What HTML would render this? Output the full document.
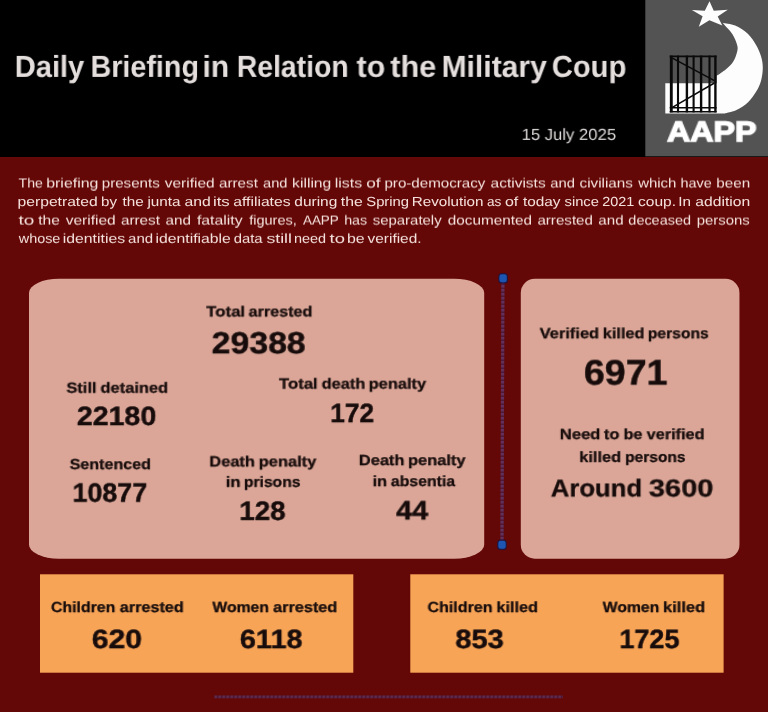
<!DOCTYPE html>
<html lang="en">
<head>
<meta charset="utf-8">
<title>Daily Briefing in Relation to the Military Coup</title>
<style>
html,body{margin:0;padding:0;}
body{width:768px;height:712px;position:relative;overflow:hidden;background:#640807;font-family:"Liberation Sans",sans-serif;}
header{position:absolute;left:0;top:0;width:768px;height:157px;background:#000;}
.logo{position:absolute;left:645px;top:0;width:123px;height:157px;}
.logo svg{position:absolute;left:0;top:0;}
h1{margin:0;padding:0;font-size:30px;}
.t{position:absolute;left:0;top:0;text-rendering:geometricPrecision;margin:0;padding:0;white-space:nowrap;line-height:1;transform-origin:0 0;font-weight:700;}
.pl{position:absolute;left:0;top:0;text-rendering:geometricPrecision;margin:0;padding:0;white-space:nowrap;line-height:1;font-size:13.2px;letter-spacing:0.0px;color:#f4e0db;font-weight:400;transform-origin:0 0;}
.card{position:absolute;left:0;top:0;transform-origin:0 0;background:#dba698;}
.box{position:absolute;left:0;top:0;transform-origin:0 0;background:#f8a457;}
.deco{position:absolute;left:0;top:0;}
.pl span{position:absolute;left:0;top:0;transform-origin:0 0;white-space:nowrap;}
#w1{font-size:30.44px;font-weight:700;color:#e4dedd;transform:translate(14.77px,51.90px) scaleX(0.9558) perspective(10000px) rotateX(0.1deg);}
#w2{font-size:30.44px;font-weight:700;color:#e4dedd;transform:translate(90.57px,51.90px) scaleX(0.9427) perspective(10000px) rotateX(0.1deg);}
#w3{font-size:30.44px;font-weight:700;color:#e4dedd;transform:translate(202.52px,51.90px) scaleX(0.9838) perspective(10000px) rotateX(0.1deg);}
#w4{font-size:30.44px;font-weight:700;color:#e4dedd;transform:translate(236.83px,51.90px) scaleX(0.9312) perspective(10000px) rotateX(0.1deg);}
#w5{font-size:30.44px;font-weight:700;color:#e4dedd;transform:translate(356.53px,51.90px) scaleX(0.9978) perspective(10000px) rotateX(0.1deg);}
#w6{font-size:30.44px;font-weight:700;color:#e4dedd;transform:translate(390.29px,51.90px) scaleX(1.0054) perspective(10000px) rotateX(0.1deg);}
#w7{font-size:30.44px;font-weight:700;color:#e4dedd;transform:translate(441.64px,51.90px) scaleX(0.9868) perspective(10000px) rotateX(0.1deg);}
#w8{font-size:30.44px;font-weight:700;color:#e4dedd;transform:translate(551.83px,51.90px) scaleX(0.9584) perspective(10000px) rotateX(0.1deg);}
#date{font-size:16.07px;font-weight:400;color:#dedad9;transform:translate(521.66px,126.90px) scaleX(1.0366) perspective(10000px) rotateX(0.1deg);}
#aapp{font-size:28.44px;font-weight:700;color:#ffffff;-webkit-text-stroke:1.3px #ffffff;transform:translate(667.01px,118.25px) scaleX(1.1337) perspective(10000px) rotateX(0.1deg);}
#ta_1{font-size:14.79px;font-weight:700;color:#170c0b;-webkit-text-stroke:0.3px #170c0b;transform:translate(206.15px,305.50px) scaleX(1.1389) perspective(10000px) rotateX(0.1deg);}
#ta_2{font-size:14.79px;font-weight:700;color:#170c0b;-webkit-text-stroke:0.3px #170c0b;transform:translate(248.57px,305.50px) scaleX(1.0944) perspective(10000px) rotateX(0.1deg);}
#ta_n{font-size:30.51px;font-weight:700;color:#170c0b;-webkit-text-stroke:0.45px #170c0b;transform:translate(211.62px,328.27px) scaleX(1.1098) perspective(10000px) rotateX(0.1deg);}
#sd_1{font-size:14.79px;font-weight:700;color:#170c0b;-webkit-text-stroke:0.3px #170c0b;transform:translate(66.44px,381.75px) scaleX(1.1081) perspective(10000px) rotateX(0.1deg);}
#sd_2{font-size:14.79px;font-weight:700;color:#170c0b;-webkit-text-stroke:0.3px #170c0b;transform:translate(100.49px,381.75px) scaleX(1.1133) perspective(10000px) rotateX(0.1deg);}
#sd_n{font-size:26.58px;font-weight:700;color:#170c0b;-webkit-text-stroke:0.45px #170c0b;transform:translate(76.88px,403.09px) scaleX(1.0739) perspective(10000px) rotateX(0.1deg);}
#tdp_1{font-size:14.79px;font-weight:700;color:#170c0b;-webkit-text-stroke:0.3px #170c0b;transform:translate(278.97px,377.65px) scaleX(1.1309) perspective(10000px) rotateX(0.1deg);}
#tdp_2{font-size:14.79px;font-weight:700;color:#170c0b;-webkit-text-stroke:0.3px #170c0b;transform:translate(321.70px,377.65px) scaleX(1.1044) perspective(10000px) rotateX(0.1deg);}
#tdp_3{font-size:14.79px;font-weight:700;color:#170c0b;-webkit-text-stroke:0.3px #170c0b;transform:translate(368.65px,377.65px) scaleX(1.1122) perspective(10000px) rotateX(0.1deg);}
#tdp_n{font-size:26.60px;font-weight:700;color:#170c0b;-webkit-text-stroke:0.45px #170c0b;transform:translate(330.31px,400.15px) scaleX(0.9881) perspective(10000px) rotateX(0.1deg);}
#se{font-size:14.79px;font-weight:700;color:#170c0b;-webkit-text-stroke:0.3px #170c0b;transform:translate(69.72px,458.20px) scaleX(1.0865) perspective(10000px) rotateX(0.1deg);}
#se_n{font-size:26.60px;font-weight:700;color:#170c0b;-webkit-text-stroke:0.45px #170c0b;transform:translate(72.56px,479.75px) scaleX(1.0096) perspective(10000px) rotateX(0.1deg);}
#dp1_1{font-size:14.79px;font-weight:700;color:#170c0b;-webkit-text-stroke:0.3px #170c0b;transform:translate(209.33px,455.45px) scaleX(1.1100) perspective(10000px) rotateX(0.1deg);}
#dp1_2{font-size:14.79px;font-weight:700;color:#170c0b;-webkit-text-stroke:0.3px #170c0b;transform:translate(258.69px,455.45px) scaleX(1.1154) perspective(10000px) rotateX(0.1deg);}
#dp1b_1{font-size:14.79px;font-weight:700;color:#170c0b;-webkit-text-stroke:0.3px #170c0b;transform:translate(225.73px,475.85px) scaleX(1.1379) perspective(10000px) rotateX(0.1deg);}
#dp1b_2{font-size:14.79px;font-weight:700;color:#170c0b;-webkit-text-stroke:0.3px #170c0b;transform:translate(243.91px,475.85px) scaleX(1.0587) perspective(10000px) rotateX(0.1deg);}
#dp1_n{font-size:26.60px;font-weight:700;color:#170c0b;-webkit-text-stroke:0.45px #170c0b;transform:translate(239.35px,497.95px) scaleX(1.0445) perspective(10000px) rotateX(0.1deg);}
#dp2_1{font-size:14.79px;font-weight:700;color:#170c0b;-webkit-text-stroke:0.3px #170c0b;transform:translate(358.85px,454.15px) scaleX(1.1112) perspective(10000px) rotateX(0.1deg);}
#dp2_2{font-size:14.79px;font-weight:700;color:#170c0b;-webkit-text-stroke:0.3px #170c0b;transform:translate(408.00px,454.15px) scaleX(1.1129) perspective(10000px) rotateX(0.1deg);}
#dp2b_1{font-size:14.79px;font-weight:700;color:#170c0b;-webkit-text-stroke:0.3px #170c0b;transform:translate(372.58px,475.15px) scaleX(1.1091) perspective(10000px) rotateX(0.1deg);}
#dp2b_2{font-size:14.79px;font-weight:700;color:#170c0b;-webkit-text-stroke:0.3px #170c0b;transform:translate(390.86px,475.15px) scaleX(1.0716) perspective(10000px) rotateX(0.1deg);}
#dp2_n{font-size:26.60px;font-weight:700;color:#170c0b;-webkit-text-stroke:0.45px #170c0b;transform:translate(396.10px,497.45px) scaleX(1.0863) perspective(10000px) rotateX(0.1deg);}
#vk_1{font-size:14.79px;font-weight:700;color:#170c0b;-webkit-text-stroke:0.3px #170c0b;transform:translate(539.70px,327.30px) scaleX(1.1128) perspective(10000px) rotateX(0.1deg);}
#vk_2{font-size:14.79px;font-weight:700;color:#170c0b;-webkit-text-stroke:0.3px #170c0b;transform:translate(602.76px,327.30px) scaleX(1.1051) perspective(10000px) rotateX(0.1deg);}
#vk_3{font-size:14.79px;font-weight:700;color:#170c0b;-webkit-text-stroke:0.3px #170c0b;transform:translate(647.81px,327.30px) scaleX(1.0603) perspective(10000px) rotateX(0.1deg);}
#vk_n{font-size:35.63px;font-weight:700;color:#170c0b;-webkit-text-stroke:0.45px #170c0b;transform:translate(583.92px,355.57px) scaleX(1.0534) perspective(10000px) rotateX(0.1deg);}
#nv_1{font-size:14.79px;font-weight:700;color:#170c0b;-webkit-text-stroke:0.3px #170c0b;transform:translate(559.82px,428.20px) scaleX(1.1247) perspective(10000px) rotateX(0.1deg);}
#nv_2{font-size:14.79px;font-weight:700;color:#170c0b;-webkit-text-stroke:0.3px #170c0b;transform:translate(603.90px,428.20px) scaleX(1.1061) perspective(10000px) rotateX(0.1deg);}
#nv_3{font-size:14.79px;font-weight:700;color:#170c0b;-webkit-text-stroke:0.3px #170c0b;transform:translate(623.54px,428.20px) scaleX(1.0977) perspective(10000px) rotateX(0.1deg);}
#nv_4{font-size:14.79px;font-weight:700;color:#170c0b;-webkit-text-stroke:0.3px #170c0b;transform:translate(646.63px,428.20px) scaleX(1.1030) perspective(10000px) rotateX(0.1deg);}
#nvb_1{font-size:14.79px;font-weight:700;color:#170c0b;-webkit-text-stroke:0.3px #170c0b;transform:translate(579.21px,450.95px) scaleX(1.1114) perspective(10000px) rotateX(0.1deg);}
#nvb_2{font-size:14.79px;font-weight:700;color:#170c0b;-webkit-text-stroke:0.3px #170c0b;transform:translate(625.12px,450.95px) scaleX(1.0508) perspective(10000px) rotateX(0.1deg);}
#nv_n_1{font-size:24.46px;font-weight:700;color:#170c0b;-webkit-text-stroke:0.3px #170c0b;transform:translate(550.77px,477.45px) scaleX(1.0507) perspective(10000px) rotateX(0.1deg);}
#nv_n_2{font-size:24.46px;font-weight:700;color:#170c0b;-webkit-text-stroke:0.3px #170c0b;transform:translate(648.83px,477.45px) scaleX(1.1891) perspective(10000px) rotateX(0.1deg);}
#ca_1{font-size:14.79px;font-weight:700;color:#170c0b;-webkit-text-stroke:0.3px #170c0b;transform:translate(50.99px,601.10px) scaleX(1.0718) perspective(10000px) rotateX(0.1deg);}
#ca_2{font-size:14.79px;font-weight:700;color:#170c0b;-webkit-text-stroke:0.3px #170c0b;transform:translate(119.76px,601.10px) scaleX(1.0976) perspective(10000px) rotateX(0.1deg);}
#ca_n{font-size:26.61px;font-weight:700;color:#170c0b;-webkit-text-stroke:0.45px #170c0b;transform:translate(91.80px,626.15px) scaleX(1.1343) perspective(10000px) rotateX(0.1deg);}
#wa_1{font-size:14.79px;font-weight:700;color:#170c0b;-webkit-text-stroke:0.3px #170c0b;transform:translate(212.37px,601.10px) scaleX(1.0661) perspective(10000px) rotateX(0.1deg);}
#wa_2{font-size:14.79px;font-weight:700;color:#170c0b;-webkit-text-stroke:0.3px #170c0b;transform:translate(273.10px,601.10px) scaleX(1.1003) perspective(10000px) rotateX(0.1deg);}
#wa_n{font-size:26.61px;font-weight:700;color:#170c0b;-webkit-text-stroke:0.45px #170c0b;transform:translate(239.87px,626.15px) scaleX(1.0848) perspective(10000px) rotateX(0.1deg);}
#ck_1{font-size:14.79px;font-weight:700;color:#170c0b;-webkit-text-stroke:0.3px #170c0b;transform:translate(427.50px,601.10px) scaleX(1.0838) perspective(10000px) rotateX(0.1deg);}
#ck_2{font-size:14.79px;font-weight:700;color:#170c0b;-webkit-text-stroke:0.3px #170c0b;transform:translate(496.39px,601.10px) scaleX(1.1033) perspective(10000px) rotateX(0.1deg);}
#ck_n{font-size:26.61px;font-weight:700;color:#170c0b;-webkit-text-stroke:0.45px #170c0b;transform:translate(455.34px,626.15px) scaleX(1.0934) perspective(10000px) rotateX(0.1deg);}
#wk_1{font-size:14.79px;font-weight:700;color:#170c0b;-webkit-text-stroke:0.3px #170c0b;transform:translate(602.67px,601.10px) scaleX(1.0675) perspective(10000px) rotateX(0.1deg);}
#wk_2{font-size:14.79px;font-weight:700;color:#170c0b;-webkit-text-stroke:0.3px #170c0b;transform:translate(662.96px,601.10px) scaleX(1.1192) perspective(10000px) rotateX(0.1deg);}
#wk_n{font-size:26.61px;font-weight:700;color:#170c0b;-webkit-text-stroke:0.45px #170c0b;transform:translate(619.48px,626.15px) scaleX(1.0123) perspective(10000px) rotateX(0.1deg);}
#cardL{width:456px;height:280px;border-radius:30px/14px;transform:translate(29.0px,278.8px) scale(0.99825,0.99964);}
#cardR{width:219px;height:280px;border-radius:14px;transform:translate(520.8px,278.8px) scale(0.99840,0.99964);}
#boxL{width:314px;height:99px;border-radius:0;transform:translate(40.0px,574.3px) scale(0.99777,0.99394);}
#boxR{width:314px;height:99px;border-radius:0;transform:translate(410.3px,574.3px) scale(0.99777,0.99394);}
#p1{transform:translate(0,176.50px) perspective(10000px) rotateX(0.1deg);}
#p2{transform:translate(0,195.00px) perspective(10000px) rotateX(0.1deg);}
#p3{transform:translate(0,213.60px) perspective(10000px) rotateX(0.1deg);}
#p4{transform:translate(0,231.90px) perspective(10000px) rotateX(0.1deg);}
</style>
</head>
<body>
<header>
  <h1><span class="t" id="w1">Daily</span> <span class="t" id="w2">Briefing</span> <span class="t" id="w3">in</span> <span class="t" id="w4">Relation</span> <span class="t" id="w5">to</span> <span class="t" id="w6">the</span> <span class="t" id="w7">Military</span> <span class="t" id="w8">Coup</span></h1>
  <div class="t" id="date">15 July 2025</div>
  <div class="logo"><svg width="123" height="157" viewBox="645 0 123 157" aria-label="AAPP logo"><rect x="645.3" y="0" width="123" height="156.3" fill="#535353"/><polygon fill="#fdfdfd" points="709.5,1.3 713.75,10.7 727.75,9.85 717.7,16.4 722.3,25.4 709.4,20.2 698.8,26.8 702.6,16.2 691.9,10.1 704.8,10.7"/><path fill="#fdfdfd" d="M722.5 22.8C724.6 23.3 730.9 23.8 735.1 25.6C739.3 27.4 744.2 30.5 747.8 33.8C751.3 37.1 754.0 41.5 756.2 45.3C758.4 49.1 760.0 52.8 761.1 56.5C762.2 60.2 762.8 63.8 762.8 67.8C762.8 71.7 762.2 76.4 761.1 80.4C760.0 84.4 758.4 87.9 756.2 91.6C754.0 95.3 751.0 99.5 747.8 102.5C744.5 105.5 740.4 108.1 736.5 109.9C732.6 111.7 726.5 112.8 724.5 113.4L665.3 113.4L665.3 83.2L716.7 83.2L716.7 75.8C718.2 74.7 723.3 71.5 726.0 69.2C728.7 66.9 731.2 64.9 733.0 62.1C734.8 59.3 736.3 55.1 737.0 52.3C737.7 49.5 738.0 48.3 737.2 45.3C736.4 42.2 734.8 37.8 732.3 34.0C729.8 30.2 724.1 24.7 722.5 22.8Z"/><g stroke="#0a0a0a" fill="none"><line x1="671.3" y1="55.6" x2="671.3" y2="112.4" stroke-width="2.9"/><line x1="678" y1="55.6" x2="678" y2="112.4" stroke-width="2.1"/><line x1="686.9" y1="55.6" x2="686.9" y2="112.4" stroke-width="2.4"/><line x1="693.6" y1="55.6" x2="693.6" y2="112.4" stroke-width="2.1"/><line x1="701.1" y1="55.6" x2="701.1" y2="112.4" stroke-width="2.4"/><line x1="709.5" y1="55.6" x2="709.5" y2="112.4" stroke-width="2.1"/><line x1="715.4" y1="55.6" x2="715.4" y2="112.4" stroke-width="2.4"/><line x1="669.7" y1="56.4" x2="716.6" y2="56.4" stroke-width="1.6"/><line x1="669.7" y1="107.8" x2="716.6" y2="107.8" stroke-width="1.4"/><line x1="669.7" y1="111.7" x2="716.6" y2="111.7" stroke-width="1.5"/><line x1="672.4" y1="58.1" x2="714.4" y2="80.6" stroke-width="1.5"/><line x1="714.4" y1="83" x2="672.4" y2="107.3" stroke-width="1.5"/></g></svg></div>
  <div class="t" id="aapp">AAPP</div>
</header>
<main>
  <p class="pl" id="p1"><span style="transform:translateX(18.58px) scaleX(1.0680)">The</span> <span style="transform:translateX(46.21px) scaleX(1.2055)">briefing</span> <span style="transform:translateX(101.75px) scaleX(1.1460)">presents</span> <span style="transform:translateX(164.80px) scaleX(1.1719)">verified</span> <span style="transform:translateX(219.08px) scaleX(1.1506)">arrest</span> <span style="transform:translateX(263.09px) scaleX(1.1093)">and</span> <span style="transform:translateX(292.12px) scaleX(1.1877)">killing</span> <span style="transform:translateX(334.81px) scaleX(1.2049)">lists</span> <span style="transform:translateX(366.16px) scaleX(1.3062)">of</span> <span style="transform:translateX(384.45px) scaleX(1.1473)">pro-democracy</span> <span style="transform:translateX(490.57px) scaleX(1.1742)">activists</span> <span style="transform:translateX(550.34px) scaleX(1.1212)">and</span> <span style="transform:translateX(579.57px) scaleX(1.1545)">civilians</span> <span style="transform:translateX(638.13px) scaleX(1.1351)">which</span> <span style="transform:translateX(680.50px) scaleX(1.0930)">have</span> <span style="transform:translateX(716.35px) scaleX(1.1511)">been</span></p>
  <p class="pl" id="p2"><span style="transform:translateX(17.57px) scaleX(1.1865)">perpetrated</span> <span style="transform:translateX(101.06px) scaleX(1.1436)">by</span> <span style="transform:translateX(122.50px) scaleX(1.1563)">the</span> <span style="transform:translateX(147.48px) scaleX(1.1573)">junta</span> <span style="transform:translateX(184.41px) scaleX(1.1931)">and</span> <span style="transform:translateX(212.95px) scaleX(1.2706)">its</span> <span style="transform:translateX(233.31px) scaleX(1.1888)">affiliates</span> <span style="transform:translateX(294.32px) scaleX(1.1719)">during</span> <span style="transform:translateX(340.80px) scaleX(1.1956)">the</span> <span style="transform:translateX(366.24px) scaleX(1.1242)">Spring</span> <span style="transform:translateX(411.71px) scaleX(1.1518)">Revolution</span> <span style="transform:translateX(486.88px) scaleX(1.0293)">as</span> <span style="transform:translateX(504.90px) scaleX(1.2123)">of</span> <span style="transform:translateX(522.90px) scaleX(1.1644)">today</span> <span style="transform:translateX(564.57px) scaleX(1.1139)">since</span> <span style="transform:translateX(602.22px) scaleX(1.0918)">2021</span> <span style="transform:translateX(638.06px) scaleX(1.1781)">coup.</span> <span style="transform:translateX(678.36px) scaleX(1.1531)">In</span> <span style="transform:translateX(695.31px) scaleX(1.1866)">addition</span></p>
  <p class="pl" id="p3"><span style="transform:translateX(18.55px) scaleX(1.4369)">to</span> <span style="transform:translateX(38.30px) scaleX(1.1788)">the</span> <span style="transform:translateX(65.70px) scaleX(1.1767)">verified</span> <span style="transform:translateX(120.92px) scaleX(1.1596)">arrest</span> <span style="transform:translateX(165.62px) scaleX(1.1548)">and</span> <span style="transform:translateX(196.90px) scaleX(1.2005)">fatality</span> <span style="transform:translateX(249.20px) scaleX(1.1016)">figures,</span> <span style="transform:translateX(302.90px) scaleX(1.0213)">AAPP</span> <span style="transform:translateX(344.16px) scaleX(1.0801)">has</span> <span style="transform:translateX(372.67px) scaleX(1.1335)">separately</span> <span style="transform:translateX(447.82px) scaleX(1.1595)">documented</span> <span style="transform:translateX(537.43px) scaleX(1.1466)">arrested</span> <span style="transform:translateX(598.33px) scaleX(1.1452)">and</span> <span style="transform:translateX(628.35px) scaleX(1.0946)">deceased</span> <span style="transform:translateX(696.77px) scaleX(1.1285)">persons</span></p>
  <p class="pl" id="p4"><span style="transform:translateX(18.77px) scaleX(1.0905)">whose</span> <span style="transform:translateX(62.81px) scaleX(1.1954)">identities</span> <span style="transform:translateX(128.08px) scaleX(1.1380)">and</span> <span style="transform:translateX(155.62px) scaleX(1.1919)">identifiable</span> <span style="transform:translateX(233.74px) scaleX(1.1237)">data</span> <span style="transform:translateX(266.42px) scaleX(1.3397)">still</span> <span style="transform:translateX(293.90px) scaleX(1.0936)">need</span> <span style="transform:translateX(329.55px) scaleX(1.3988)">to</span> <span style="transform:translateX(346.91px) scaleX(1.2047)">be</span> <span style="transform:translateX(367.55px) scaleX(1.1693)">verified.</span></p>

  <section class="card" id="cardL"></section>
  <div class="g" id="ta"><span class="t" id="ta_1">Total</span> <span class="t" id="ta_2">arrested</span></div>
  <div class="t" id="ta_n">29388</div>
  <div class="g" id="sd"><span class="t" id="sd_1">Still</span> <span class="t" id="sd_2">detained</span></div>
  <div class="t" id="sd_n">22180</div>
  <div class="g" id="tdp"><span class="t" id="tdp_1">Total</span> <span class="t" id="tdp_2">death</span> <span class="t" id="tdp_3">penalty</span></div>
  <div class="t" id="tdp_n">172</div>
  <div class="t" id="se">Sentenced</div>
  <div class="t" id="se_n">10877</div>
  <div class="g" id="dp1"><span class="t" id="dp1_1">Death</span> <span class="t" id="dp1_2">penalty</span></div>
  <div class="g" id="dp1b"><span class="t" id="dp1b_1">in</span> <span class="t" id="dp1b_2">prisons</span></div>
  <div class="t" id="dp1_n">128</div>
  <div class="g" id="dp2"><span class="t" id="dp2_1">Death</span> <span class="t" id="dp2_2">penalty</span></div>
  <div class="g" id="dp2b"><span class="t" id="dp2b_1">in</span> <span class="t" id="dp2b_2">absentia</span></div>
  <div class="t" id="dp2_n">44</div>

  <svg class="deco" width="768" height="712" viewBox="0 0 768 712" aria-hidden="true">
    <line x1="502.9" y1="281" x2="502.0" y2="542" stroke="#50193a" stroke-width="3.2"/>
    <line x1="502.9" y1="281" x2="502.0" y2="542" stroke="#623058" stroke-width="3.2" stroke-dasharray="2.4 1.6"/>
    <rect x="498.8" y="273.7" width="8.6" height="9.2" rx="3" fill="#1c55b2" stroke="#22123a" stroke-opacity="0.9" stroke-width="1.2"/>
    <rect x="497.7" y="540.2" width="8.6" height="9.2" rx="3" fill="#1c55b2" stroke="#22123a" stroke-opacity="0.9" stroke-width="1.2"/>
    <line x1="214.5" y1="696.9" x2="563" y2="696.9" stroke="#4f1733" stroke-width="2.8"/>
    <line x1="214.5" y1="696.9" x2="563" y2="696.9" stroke="#5d2b4c" stroke-width="2.8" stroke-dasharray="2.4 1.6"/>
  </svg>

  <section class="card" id="cardR"></section>
  <div class="g" id="vk"><span class="t" id="vk_1">Verified</span> <span class="t" id="vk_2">killed</span> <span class="t" id="vk_3">persons</span></div>
  <div class="t" id="vk_n">6971</div>
  <div class="g" id="nv"><span class="t" id="nv_1">Need</span> <span class="t" id="nv_2">to</span> <span class="t" id="nv_3">be</span> <span class="t" id="nv_4">verified</span></div>
  <div class="g" id="nvb"><span class="t" id="nvb_1">killed</span> <span class="t" id="nvb_2">persons</span></div>
  <div class="g" id="nv_n"><span class="t" id="nv_n_1">Around</span> <span class="t" id="nv_n_2">3600</span></div>

  <section class="box" id="boxL"></section>
  <div class="g" id="ca"><span class="t" id="ca_1">Children</span> <span class="t" id="ca_2">arrested</span></div>
  <div class="t" id="ca_n">620</div>
  <div class="g" id="wa"><span class="t" id="wa_1">Women</span> <span class="t" id="wa_2">arrested</span></div>
  <div class="t" id="wa_n">6118</div>

  <section class="box" id="boxR"></section>
  <div class="g" id="ck"><span class="t" id="ck_1">Children</span> <span class="t" id="ck_2">killed</span></div>
  <div class="t" id="ck_n">853</div>
  <div class="g" id="wk"><span class="t" id="wk_1">Women</span> <span class="t" id="wk_2">killed</span></div>
  <div class="t" id="wk_n">1725</div>

</main>
</body>
</html>
